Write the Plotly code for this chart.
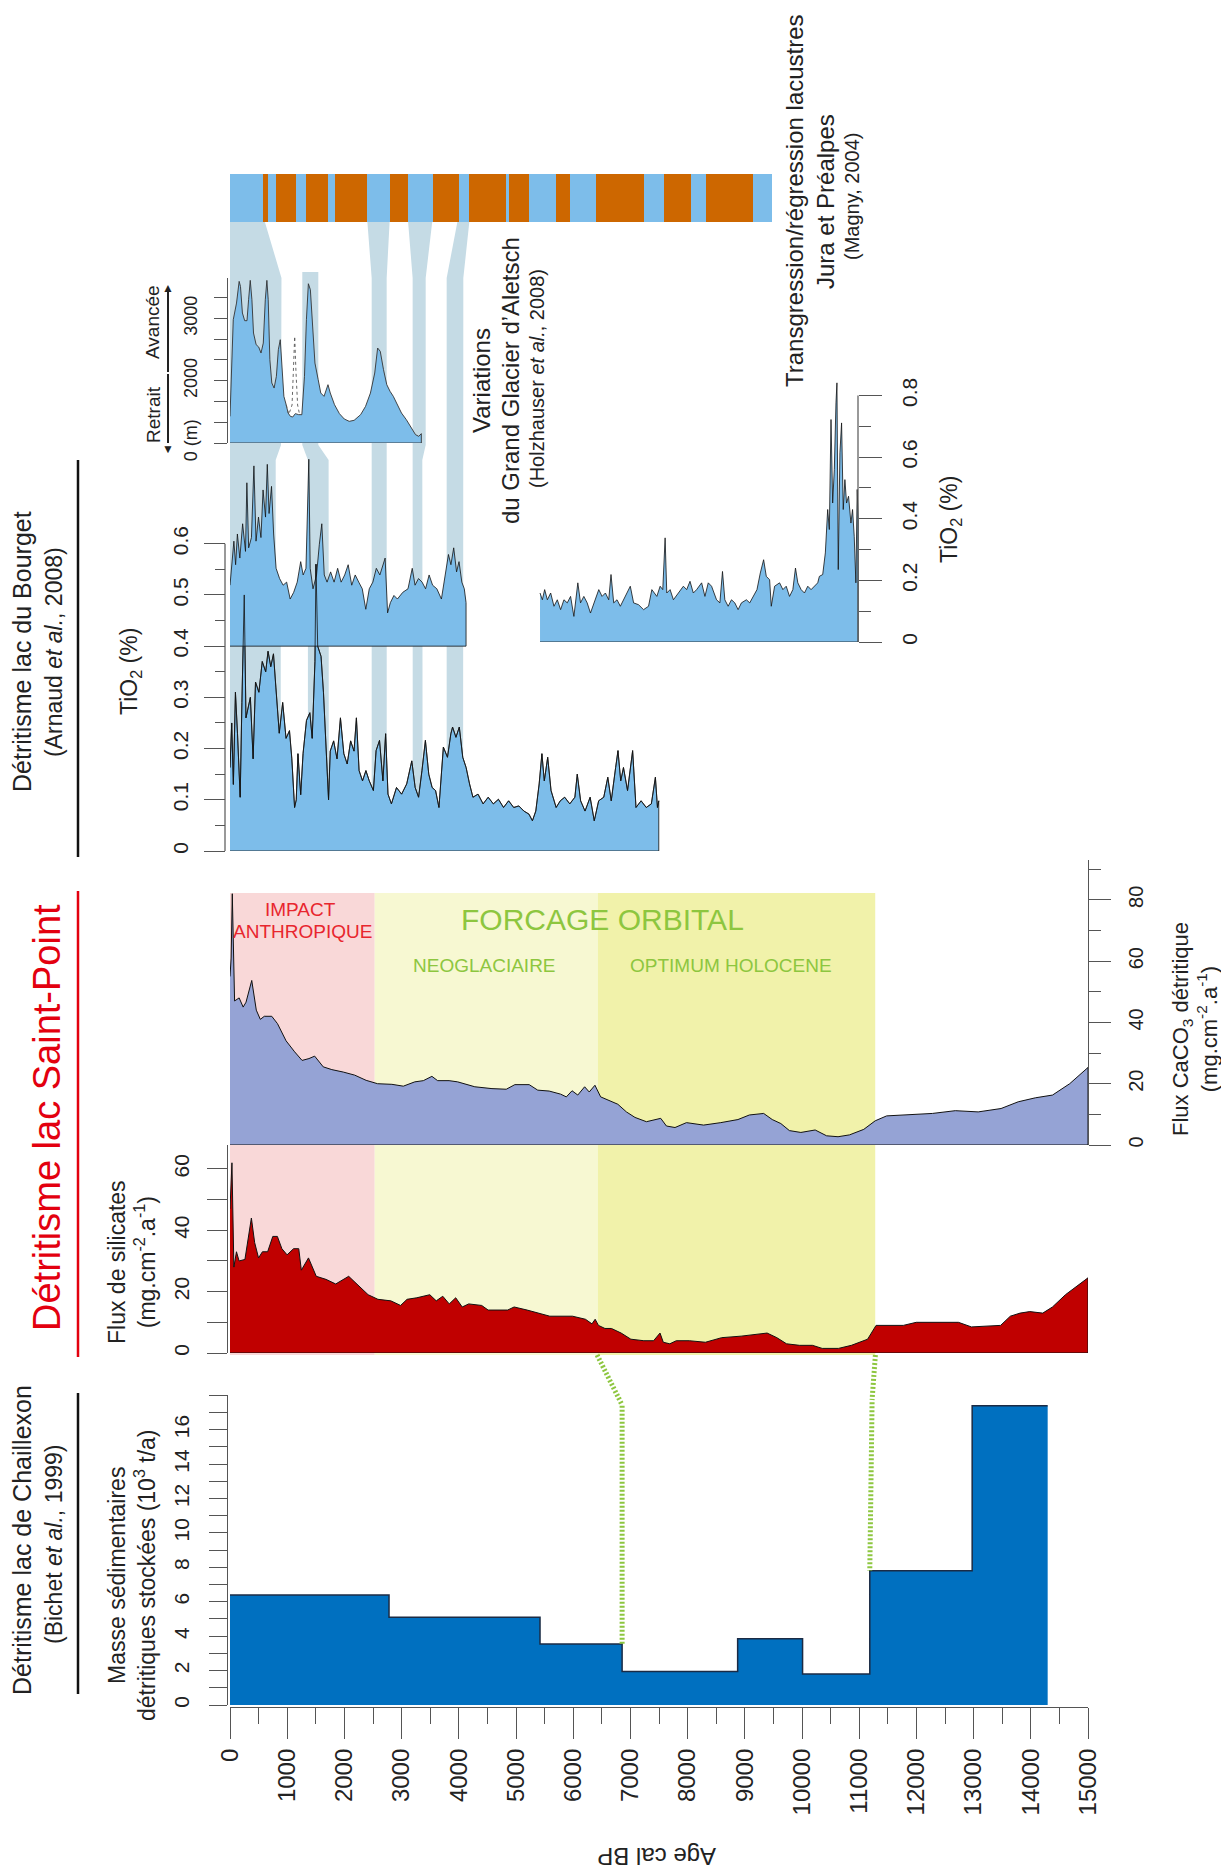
import plotly.graph_objects as go

# ---------------------------------------------------------------------------
# Données (âges en ans cal BP)
# ---------------------------------------------------------------------------
age_ticks = list(range(0, 15001, 1000))
age_tick_labels = [str(a) for a in age_ticks]

# Transgression (bleu) / régression (orange), Jura et Préalpes (Magny, 2004)
lake_edges = [0, 580, 670, 800, 1150, 1330, 1720, 1840, 2390, 2800, 3120, 3550,
              4000, 4180, 4830, 4880, 5220, 5700, 5940, 6400, 7240, 7590, 8060,
              8330, 9150, 9480]
lake_phase = ["T", "R", "T", "R", "T", "R", "T", "R", "T", "R", "T", "R", "T",
              "R", "T", "R", "T", "R", "T", "R", "T", "R", "T", "R", "T"]

# Grand Glacier d'Aletsch (Holzhauser et al., 2008)
aletsch_age = [0, 29, 57, 114, 160, 183, 217, 257, 297, 325, 354, 383, 411, 457,
               502, 542, 582, 617, 645, 668, 697, 731, 771, 811, 845, 879, 902,
               942, 982, 1016, 1056, 1096, 1142, 1200, 1256, 1302, 1336, 1370,
               1405, 1439, 1485, 1542, 1587, 1644, 1684, 1713, 1753, 1827, 1913,
               1998, 2084, 2170, 2284, 2370, 2455, 2530, 2581, 2627, 2684, 2741,
               2798, 2855, 2912, 2998, 3083, 3169, 3243, 3300, 3345]
aletsch_len = [1428, 2176, 2979, 3246, 3594, 3513, 3086, 2963, 2963, 3299, 3610,
               3299, 2765, 2578, 2540, 2444, 2604, 3299, 3610, 3299, 2337, 1963,
               1882, 2070, 2497, 2658, 2337, 1749, 1615, 1481, 1428, 1417, 1471,
               1455, 1455, 2070, 2979, 3556, 3460, 2872, 2283, 2016, 1802, 1749,
               1882, 1936, 1802, 1615, 1471, 1385, 1348, 1364, 1455, 1588, 1802,
               2123, 2524, 2471, 2176, 1936, 1829, 1749, 1642, 1481, 1374, 1241,
               1134, 1107, 1150]
aletsch_alt_age = [982, 1028, 1085, 1113, 1131, 1153, 1182, 1216, 1256]
aletsch_alt_len = [1615, 1460, 1610, 2150, 2711, 2150, 1610, 1460, 1455]
aletsch_ticks = [1000, 2000, 3000]
aletsch_tick_labels = ["0 (m)", "2000", "3000"]
aletsch_minor_ticks = [1333, 1667, 2333, 2667, 3333]

# Lac du Bourget, TiO2 (Arnaud et al., 2008) : série longue 0-7500
bourget_age = [0, 30, 59, 95, 131, 178, 208, 249, 279, 356, 404, 446, 505, 564,
               624, 665, 713, 760, 802, 861, 921, 980, 1040, 1081, 1129, 1158,
               1188, 1236, 1277, 1337, 1396, 1437, 1485, 1503, 1533, 1592, 1634,
               1675, 1723, 1752, 1812, 1871, 1931, 1990, 2049, 2109, 2168, 2210,
               2257, 2317, 2376, 2435, 2507, 2554, 2614, 2673, 2721, 2762, 2822,
               2911, 3000, 3089, 3178, 3237, 3297, 3356, 3416, 3475, 3534, 3594,
               3653, 3730, 3802, 3861, 3891, 3950, 4009, 4069, 4128, 4188, 4247,
               4336, 4425, 4514, 4604, 4693, 4782, 4871, 4960, 5049, 5138, 5227,
               5287, 5346, 5405, 5453, 5495, 5554, 5613, 5702, 5774, 5851, 5940,
               6029, 6071, 6130, 6207, 6296, 6368, 6445, 6534, 6605, 6665, 6742,
               6783, 6831, 6879, 6950, 7039, 7098, 7187, 7277, 7366, 7437, 7473,
               7496]
bourget_tio2 = [0.163, 0.25, 0.13, 0.31, 0.23, 0.105, 0.29, 0.50, 0.26, 0.30,
                0.18, 0.33, 0.31, 0.37, 0.35, 0.39, 0.36, 0.385, 0.32, 0.23, 0.29,
                0.22, 0.235, 0.18, 0.085, 0.10, 0.19, 0.11, 0.19, 0.255, 0.27,
                0.22, 0.37, 0.56, 0.40, 0.38, 0.31, 0.215, 0.10, 0.195, 0.215,
                0.18, 0.26, 0.19, 0.17, 0.215, 0.195, 0.26, 0.157, 0.137, 0.157,
                0.137, 0.118, 0.196, 0.216, 0.137, 0.229, 0.111, 0.092, 0.124,
                0.111, 0.131, 0.176, 0.124, 0.105, 0.157, 0.216, 0.15, 0.124,
                0.118, 0.085, 0.203, 0.183, 0.229, 0.242, 0.222, 0.242, 0.183,
                0.163, 0.131, 0.105, 0.111, 0.092, 0.105, 0.092, 0.101, 0.085,
                0.098, 0.085, 0.088, 0.078, 0.072, 0.059, 0.078, 0.131, 0.19,
                0.137, 0.183, 0.118, 0.085, 0.098, 0.105, 0.092, 0.105, 0.150,
                0.098, 0.078, 0.105, 0.059, 0.098, 0.105, 0.144, 0.098, 0.163,
                0.196, 0.137, 0.163, 0.118, 0.196, 0.085, 0.098, 0.085, 0.092,
                0.144, 0.085, 0.098]
# second enregistrement 0-4100, tracé au-dessus de la ligne 0.4
bourget_top_base = 0.4
bourget_top_age = [0, 37, 68, 98, 129, 172, 221, 271, 295, 326, 375, 418, 455,
                   498, 541, 578, 621, 652, 683, 726, 763, 806, 867, 929, 990,
                   1052, 1113, 1175, 1236, 1279, 1328, 1378, 1402, 1451, 1513,
                   1562, 1605, 1648, 1697, 1759, 1820, 1882, 1943, 2005, 2066,
                   2128, 2189, 2251, 2312, 2374, 2435, 2497, 2558, 2620, 2669,
                   2712, 2755, 2804, 2866, 2927, 3020, 3112, 3186, 3235, 3296,
                   3358, 3419, 3481, 3542, 3616, 3696, 3758, 3819, 3862, 3911,
                   3961, 4004, 4053, 4096, 4127]
bourget_top_tio2 = [0.519, 0.572, 0.605, 0.559, 0.619, 0.572, 0.639, 0.585,
                    0.719, 0.592, 0.612, 0.752, 0.605, 0.652, 0.612, 0.705,
                    0.652, 0.755, 0.659, 0.712, 0.619, 0.552, 0.532, 0.519,
                    0.525, 0.492, 0.505, 0.525, 0.565, 0.539, 0.552, 0.765,
                    0.552, 0.512, 0.539, 0.599, 0.639, 0.539, 0.525, 0.545,
                    0.525, 0.552, 0.525, 0.539, 0.559, 0.519, 0.539, 0.525,
                    0.512, 0.472, 0.512, 0.525, 0.552, 0.539, 0.559, 0.572,
                    0.465, 0.485, 0.499, 0.492, 0.505, 0.512, 0.552, 0.519,
                    0.532, 0.525, 0.512, 0.539, 0.519, 0.512, 0.492, 0.539,
                    0.579, 0.559, 0.592, 0.545, 0.565, 0.525, 0.512, 0.485]
# partie ancienne 5400-11000 (axe de droite)
bourget_old_age = [5420, 5461, 5501, 5548, 5606, 5664, 5722, 5780, 5838, 5896,
                   5954, 6012, 6081, 6128, 6186, 6244, 6302, 6360, 6447, 6505,
                   6563, 6621, 6661, 6708, 6766, 6824, 6911, 6998, 7056, 7143,
                   7230, 7317, 7375, 7462, 7520, 7566, 7607, 7636, 7694, 7752,
                   7839, 7926, 7984, 8042, 8100, 8158, 8245, 8303, 8361, 8419,
                   8506, 8564, 8610, 8651, 8709, 8767, 8825, 8883, 8941, 9028,
                   9086, 9144, 9213, 9271, 9329, 9376, 9434, 9463, 9521, 9608,
                   9666, 9724, 9782, 9840, 9886, 9927, 9985, 10043, 10101, 10159,
                   10217, 10275, 10304, 10362, 10408, 10449, 10478, 10507, 10536,
                   10565, 10594, 10611, 10634, 10663, 10692, 10721, 10750, 10779,
                   10814, 10855, 10884, 10913, 10942, 10965, 10982]
bourget_old_tio2 = [0.159, 0.137, 0.17, 0.137, 0.159, 0.116, 0.137, 0.105, 0.137,
                    0.127, 0.148, 0.083, 0.192, 0.127, 0.148, 0.127, 0.094, 0.127,
                    0.17, 0.148, 0.159, 0.137, 0.219, 0.127, 0.137, 0.116, 0.148,
                    0.181, 0.127, 0.121, 0.105, 0.116, 0.17, 0.148, 0.181, 0.17,
                    0.338, 0.159, 0.17, 0.137, 0.159, 0.181, 0.17, 0.197, 0.159,
                    0.17, 0.192, 0.148, 0.192, 0.181, 0.137, 0.127, 0.229, 0.137,
                    0.116, 0.137, 0.127, 0.105, 0.127, 0.137, 0.127, 0.148, 0.17,
                    0.224, 0.267, 0.213, 0.202, 0.116, 0.181, 0.192, 0.17, 0.181,
                    0.148, 0.17, 0.24, 0.192, 0.17, 0.159, 0.181, 0.17, 0.181,
                    0.192, 0.213, 0.219, 0.289, 0.43, 0.365, 0.722, 0.451, 0.56,
                    0.776, 0.841, 0.235, 0.614, 0.711, 0.43, 0.527, 0.451, 0.473,
                    0.386, 0.43, 0.343, 0.192, 0.495, 0.397]
bourget_left_ticks = [0, 0.1, 0.2, 0.3, 0.4, 0.5, 0.6]
bourget_right_ticks = [0, 0.2, 0.4, 0.6, 0.8]

# Lac de Saint-Point : flux CaCO3 détritique (mg.cm-2.a-1)
caco3_age = [0, 20, 40, 80, 160, 230, 280, 380, 460, 530, 600, 730, 830, 980,
             1130, 1260, 1380, 1480, 1630, 1780, 1980, 2180, 2380, 2580, 2830,
             3030, 3230, 3380, 3530, 3630, 3830, 3980, 4280, 4580, 4830, 4980,
             5230, 5380, 5580, 5780, 5880, 5980, 6080, 6200, 6280, 6380, 6480,
             6630, 6780, 6930, 7080, 7280, 7530, 7630, 7780, 7980, 8280, 8580,
             8880, 9080, 9330, 9480, 9630, 9780, 9980, 10230, 10430, 10630, 10830,
             11080, 11280, 11480, 11880, 12280, 12680, 13080, 13480, 13780, 14080,
             14380, 14680, 15000]
caco3_flux = [55, 61, 82, 47, 48, 45, 46.6, 53.7, 44, 41, 42, 42, 39.6, 34, 30.4,
              27.6, 28.2, 29, 25.5, 24.6, 23.8, 22.8, 21.1, 20, 19.8, 19.2, 20.6,
              21, 22.4, 21, 21, 20.6, 19, 18.4, 18.2, 19.7, 19.7, 17.9, 17.6,
              16.6, 15.7, 17.7, 16.3, 19, 17.3, 19.5, 15.7, 14.6, 13.3, 10.8, 9,
              7.6, 8.7, 6.2, 5.7, 7.3, 6.5, 7.3, 8.3, 9.8, 10.3, 8.3, 7, 4.7, 4.1,
              4.9, 3, 2.7, 3.3, 5.1, 7.9, 9.5, 9.8, 10.3, 11.2, 10.8, 11.9, 14.1,
              15.4, 16.3, 20, 25.3]

# Lac de Saint-Point : flux de silicates (mg.cm-2.a-1)
silicate_age = [0, 34, 68, 113, 159, 261, 374, 431, 499, 567, 658, 748, 828, 907,
                998, 1111, 1202, 1247, 1372, 1508, 1678, 1848, 2075, 2245, 2415,
                2586, 2812, 2982, 3096, 3266, 3493, 3606, 3720, 3833, 3946, 4060,
                4173, 4400, 4513, 4854, 4967, 5194, 5421, 5591, 5988, 6214, 6328,
                6384, 6441, 6555, 6668, 6838, 7008, 7235, 7405, 7518, 7575, 7689,
                7802, 8029, 8312, 8596, 8936, 9163, 9390, 9560, 9730, 9957, 10183,
                10353, 10637, 10864, 11147, 11295, 11544, 11771, 11998, 12338,
                12735, 12962, 13472, 13642, 13812, 13982, 14209, 14379, 14606,
                15000]
silicate_flux = [47, 62, 28, 33, 30, 30.5, 44, 36, 31, 33, 33, 38, 38, 34, 32, 34,
                 34, 27, 31, 25, 24, 22.5, 25, 22, 19, 17.5, 17, 15.5, 17.5, 18,
                 19, 17, 18.5, 16, 18, 15, 16, 15.5, 14, 14, 15, 14, 13, 12, 12,
                 11, 9.5, 11, 9, 8, 8, 6.5, 4.5, 4, 4, 6.5, 3.5, 3, 4, 4, 3.5, 5,
                 5.5, 6, 6.5, 5, 3, 2.5, 2.5, 1.5, 1.5, 2.5, 4.5, 9, 9, 9, 10, 10,
                 10, 8.5, 9, 12, 13, 13.5, 13, 15, 19, 24.5]

# Lac de Chaillexon : masse sédimentaire détritique stockée (10^3 t/a)
chaillexon_edges = [0, 2780, 5420, 6855, 8875, 10010, 11185, 12975, 14295]
chaillexon_mass = [6.4, 5.1, 3.55, 1.95, 3.85, 1.8, 7.8, 17.4]

# Périodes climatiques (Saint-Point)
zone_edges = [0, 2530, 6430, 11280]

# Tranches de corrélation (âge début, âge fin) à chaque niveau du montage
band_1 = [("bar", 0, 610), ("gl_top", 0, 900), ("gl_base", 0, 892),
          ("bg_top", 0, 799), ("split", 0, 799), ("split", 0, 887), ("base", 0, 887)]
band_2 = [("gl_top2", 1264, 1544), ("gl_base", 1264, 1544),
          ("bg_top", 1362, 1724), ("base", 1362, 1728)]
band_3 = [("bar", 2402, 2790), ("gl_top", 2477, 2739), ("base", 2477, 2740)]
band_4 = [("bar", 3114, 3535), ("gl_top", 3193, 3421), ("gl_base", 3193, 3421),
          ("bg_top", 3193, 3362), ("base", 3195, 3368)]
band_5 = [("bar", 3975, 4184), ("gl_top", 3788, 4079), ("base", 3788, 4075)]

# Connexions pointillées vertes (âge en haut, âge en bas, masse Chaillexon)
link_top_age = [6418, 11283]
link_bottom_age = [6855, 11185]
link_bottom_mass = [3.55, 7.8]

# ---------------------------------------------------------------------------
# Mise en page : positions en pixels de la page 1229 x 1874 ; la page HTML
# garde la marge de 8 px du <body>, la figure est donc plus petite d'autant.
# ---------------------------------------------------------------------------
PAGE_W, PAGE_H, BODY = 1229, 1874, 8
W, H = PAGE_W - BODY, PAGE_H - BODY
AGE_X0, AGE_X1 = 230, 1088
BASE = "Liberation Sans, Arial, sans-serif"
AXIS = "#555555"
LIGHT_BLUE = "#7dbdea"
ORANGE = "#cd6700"
BAND = "rgb(197,219,229)"
GREEN = "#8dc63f"
RED = "#e3000f"
ZONE_COLORS = ["#f9d8d8", "#f7f8d2", "#f1f2aa"]
LEVEL_PX = {"bar": 222, "gl_top": 278, "gl_top2": 272, "gl_base": 445,
            "bg_top": 460, "split": 646, "base": 851}


def px_x(p):
    return (p - BODY) / W


def px_y(p):
    return 1 - (p - BODY) / H


def dom(base, top):
    return [px_y(base), px_y(top)]


def closed(xs, ys, floor):
    return xs + [xs[-1], xs[0]], ys + [floor, floor]


fig = go.Figure()

# bande transgression / régression
starts = lake_edges[:-1]
widths = [b - a for a, b in zip(lake_edges[:-1], lake_edges[1:])]
fig.add_trace(go.Bar(
    orientation="h", y=[0] * len(widths), x=widths, base=starts, width=1,
    marker=dict(color=[LIGHT_BLUE if p == "T" else ORANGE for p in lake_phase],
                line=dict(width=0)),
    xaxis="x", yaxis="y7", hoverinfo="skip"))

# Aletsch
ax, ay = closed(aletsch_age, aletsch_len, aletsch_ticks[0])
fig.add_trace(go.Scatter(x=ax, y=ay, fill="toself", fillcolor=LIGHT_BLUE,
                         mode="lines", line=dict(color="#333333", width=0.9),
                         xaxis="x", yaxis="y6", hoverinfo="skip"))
fig.add_trace(go.Scatter(x=aletsch_alt_age, y=aletsch_alt_len, mode="lines",
                         line=dict(color="#555555", width=0.9, dash="dot"),
                         xaxis="x", yaxis="y6", hoverinfo="skip"))

# Bourget
bx, by = closed(bourget_age, bourget_tio2, 0)
fig.add_trace(go.Scatter(x=bx, y=by, fill="toself", fillcolor=LIGHT_BLUE,
                         mode="lines", line=dict(color="#111111", width=0.8),
                         xaxis="x", yaxis="y4", hoverinfo="skip"))
tx, ty = closed(bourget_top_age, bourget_top_tio2, bourget_top_base)
fig.add_trace(go.Scatter(x=tx, y=ty, fill="toself", fillcolor=LIGHT_BLUE,
                         mode="lines", line=dict(color="#111111", width=0.8),
                         xaxis="x", yaxis="y4", hoverinfo="skip"))
fig.add_trace(go.Scatter(x=bourget_age, y=bourget_tio2, mode="lines",
                         line=dict(color="#111111", width=0.8),
                         xaxis="x", yaxis="y4", hoverinfo="skip"))
ox, oy = closed(bourget_old_age, bourget_old_tio2, 0)
fig.add_trace(go.Scatter(x=ox, y=oy, fill="toself", fillcolor=LIGHT_BLUE,
                         mode="lines", line=dict(color="#111111", width=0.8),
                         xaxis="x", yaxis="y5", hoverinfo="skip"))

# Saint-Point
cx, cy = closed(caco3_age, caco3_flux, 0)
fig.add_trace(go.Scatter(x=cx, y=cy, fill="toself", fillcolor="#95a3d5",
                         mode="lines", line=dict(color="#111111", width=1),
                         xaxis="x", yaxis="y3", hoverinfo="skip"))
sx, sy = closed(silicate_age, silicate_flux, 0)
fig.add_trace(go.Scatter(x=sx, y=sy, fill="toself", fillcolor="#c00000",
                         mode="lines", line=dict(color="#111111", width=1),
                         xaxis="x", yaxis="y2", hoverinfo="skip"))

# Chaillexon
fig.add_trace(go.Scatter(x=chaillexon_edges, y=chaillexon_mass + chaillexon_mass[-1:],
                         line_shape="hv", fill="tozeroy", fillcolor="#0070c0",
                         mode="lines", line=dict(color="#1b2b45", width=1.5),
                         xaxis="x", yaxis="y", hoverinfo="skip"))

shapes = []
# périodes climatiques
for i, col in enumerate(ZONE_COLORS):
    shapes.append(dict(type="rect", xref="x", yref="paper", layer="below",
                       x0=zone_edges[i], x1=zone_edges[i + 1],
                       y0=px_y(1355), y1=px_y(893), fillcolor=col,
                       line=dict(width=0)))
# tranches de corrélation
for band in [band_1, band_2, band_3, band_4, band_5]:
    left = [f"{a},{px_y(LEVEL_PX[lv])}" for lv, a, b in band]
    right = [f"{b},{px_y(LEVEL_PX[lv])}" for lv, a, b in reversed(band)]
    path = "M " + " L ".join(left + right) + " Z"
    shapes.append(dict(type="path", xref="x", yref="paper", layer="below",
                       path=path, fillcolor=BAND, line=dict(width=0)))
# lignes d'axe partielles du Bourget
shapes.append(dict(type="line", xref="paper", yref="y4", x0=px_x(225), x1=px_x(225),
                   y0=0, y1=bourget_left_ticks[-1], line=dict(color=AXIS, width=1.2)))
shapes.append(dict(type="line", xref="paper", yref="y5", x0=px_x(858), x1=px_x(858),
                   y0=0, y1=bourget_right_ticks[-1], line=dict(color=AXIS, width=1.2)))
# connexions vertes
green = dict(color=GREEN, width=5, dash="2px,2px")
shapes.append(dict(type="line", xref="x", yref="paper",
                   x0=link_top_age[0], y0=px_y(1355), x1=link_bottom_age[0], y1=px_y(1405),
                   line=green))
shapes.append(dict(type="line", xref="x", yref="y",
                   x0=link_bottom_age[0], y0=17.4, x1=link_bottom_age[0],
                   y1=link_bottom_mass[0], line=green))
shapes.append(dict(type="line", xref="x", yref="paper",
                   x0=link_top_age[1], y0=px_y(1355), x1=11225, y1=px_y(1400),
                   line=green))
shapes.append(dict(type="line", xref="x", yref="y",
                   x0=11225, y0=17.6, x1=link_bottom_age[1],
                   y1=link_bottom_mass[1], line=green))
# traits des titres de gauche
for y0, y1, col in [(1393, 1694, "#111111"), (891, 1357, RED), (460, 857, "#111111")]:
    shapes.append(dict(type="line", xref="paper", yref="paper",
                       x0=px_x(78), x1=px_x(78), y0=px_y(y0), y1=px_y(y1),
                       line=dict(color=col, width=2.5)))
# flèche Retrait / Avancée
for y0, y1 in [(372, 292), (374, 443)]:
    shapes.append(dict(type="line", xref="paper", yref="paper",
                       x0=px_x(168), x1=px_x(168), y0=px_y(y0), y1=px_y(y1),
                       line=dict(color="#222222", width=2)))


def note(text, x, y, size, angle=-90, color="#222222"):
    return dict(text=text, x=px_x(x), y=px_y(y), xref="paper", yref="paper",
                showarrow=False, textangle=angle, align="center",
                xanchor="center", yanchor="middle",
                font=dict(size=size, color=color, family=BASE))


unit = "(mg.cm<sup>-2</sup>.a<sup>-1</sup>)"
annotations = [
    note("Détritisme lac de Chaillexon", 22, 1540, 25),
    note("(Bichet <i>et al.</i>, 1999)", 54, 1545, 23),
    note("Détritisme lac Saint-Point", 47, 1118, 38, color=RED),
    note("Détritisme lac du Bourget", 22, 652, 25),
    note("(Arnaud <i>et al.</i>, 2008)", 54, 652, 23),
    note("Masse sédimentaires<br>détritiques stockées (10<sup>3</sup> t/a)", 132, 1575, 23),
    note("Flux de silicates<br>" + unit, 132, 1262, 23),
    note("TiO<sub>2</sub> (%)", 131, 672, 23),
    note("Flux CaCO<sub>3</sub> détritique<br>" + unit, 1195, 1029, 22),
    note("TiO<sub>2</sub> (%)", 950, 520, 23),
    note("Variations", 481, 381, 24),
    note("du Grand Glacier d’Aletsch", 510, 381, 24),
    note("(Holzhauser <i>et al.</i>, 2008)", 537, 379, 20),
    note("Transgression/régression lacustres", 795, 200, 24),
    note("Jura et Préalpes", 825, 202, 24),
    note("(Magny, 2004)", 852, 197, 20),
    note("Avancée", 153, 322, 19),
    note("Retrait", 153, 415, 19),
    note("IMPACT", 300, 909, 19, angle=0, color="#e8262e"),
    note("ANTHROPIQUE", 302, 932, 19, angle=0, color="#e8262e"),
    note("FORCAGE ORBITAL", 602, 919, 30, angle=0, color=GREEN),
    note("NEOGLACIAIRE", 484, 965, 19, angle=0, color=GREEN),
    note("OPTIMUM HOLOCENE", 731, 965, 19, angle=0, color=GREEN),
    note("Age cal BP", 657, 1857, 24, angle=180),
]
# pointes de flèche (haut et bas)
for y_px, sym in [(288, "▲"), (449, "▼")]:
    annotations.append(note(sym, 168, y_px, 12, angle=0, color="#222222"))


def yaxis(base, top, rng, pos, side, **kw):
    d = dict(domain=dom(base, top), range=rng, anchor="free", position=px_x(pos),
             side=side, showgrid=False, zeroline=False, ticks="outside",
             automargin=False, tickcolor=AXIS, linecolor=AXIS, linewidth=1.2,
             tickwidth=1.2, tickangle=-90,
             tickfont=dict(size=21, family=BASE, color="#222222"))
    d.update(kw)
    return d


fig.update_layout(
    width=W, height=H, margin=dict(l=0, r=0, t=0, b=0, pad=0, autoexpand=False),
    paper_bgcolor="white", plot_bgcolor="rgba(0,0,0,0)", showlegend=False,
    font=dict(family=BASE, color="#222222"), bargap=0,
    xaxis=dict(domain=[px_x(AGE_X0), px_x(AGE_X1)], range=[0, 15000],
               anchor="free", position=px_y(1707), showgrid=False, zeroline=False,
               automargin=False, showline=True, linecolor=AXIS, linewidth=1.2,
               ticks="outside", ticklen=31, tickwidth=1.2, tickcolor=AXIS,
               tickmode="array", tickvals=age_ticks, ticktext=age_tick_labels,
               tickangle=-90, tickfont=dict(size=24, family=BASE, color="#222222"),
               minor=dict(ticks="outside", ticklen=16, tickwidth=1.2,
                          tickcolor=AXIS, tickmode="linear", tick0=0, dtick=500)),
    yaxis=yaxis(1705, 1395, [0, 18.02], 227, "left", showline=True, ticklen=18,
                ticklabelstandoff=12, tickmode="array", tickvals=list(range(0, 17, 2)),
                minor=dict(ticks="outside", ticklen=18, tickcolor=AXIS,
                           tickmode="linear", tick0=0, dtick=1)),
    yaxis2=yaxis(1353, 1145, [0, 67.8], 227, "left", showline=True, ticklen=20,
                 ticklabelstandoff=10, tickmode="array", tickvals=[0, 20, 40, 60],
                 minor=dict(ticks="outside", ticklen=20, tickcolor=AXIS,
                            tickmode="linear", tick0=0, dtick=10)),
    yaxis3=yaxis(1145, 860, [0, 93], 1088, "right", showline=True, ticklen=22,
                 ticklabelstandoff=8, tickmode="array", tickvals=[0, 20, 40, 60, 80],
                 tickfont=dict(size=20, family=BASE, color="#222222"),
                 minor=dict(ticks="outside", ticklen=12, tickcolor=AXIS,
                            tickmode="linear", tick0=0, dtick=10)),
    yaxis4=yaxis(851, 450, [0, 0.783], 225, "left", showline=False, ticklen=21,
                 ticklabelstandoff=8, tickmode="array", tickvals=bourget_left_ticks,
                 ticktext=[f"{v:g}" for v in bourget_left_ticks],
                 minor=dict(ticks="outside", ticklen=10, tickcolor=AXIS,
                            tickmode="array",
                            tickvals=[0.05, 0.15, 0.25, 0.35, 0.45, 0.55])),
    yaxis5=yaxis(642, 377, [0, 0.86], 858, "right", showline=False, ticklen=23,
                 ticklabelstandoff=10, tickmode="array", tickvals=bourget_right_ticks,
                 ticktext=[f"{v:g}" for v in bourget_right_ticks],
                 minor=dict(ticks="outside", ticklen=12, tickcolor=AXIS,
                            tickmode="array", tickvals=[0.1, 0.3, 0.5, 0.7])),
    yaxis6=yaxis(443, 278, [1000, 3648], 227, "left", showline=True, ticklen=13,
                 ticklabelstandoff=10, tickmode="array", tickvals=aletsch_ticks,
                 ticktext=aletsch_tick_labels,
                 tickfont=dict(size=18, family=BASE, color="#222222"),
                 minor=dict(ticks="outside", ticklen=13, tickcolor=AXIS,
                            tickmode="array", tickvals=aletsch_minor_ticks)),
    yaxis7=dict(domain=dom(222, 174), range=[-0.5, 0.5], anchor="free",
                position=px_x(AGE_X0), visible=False, automargin=False),
    shapes=shapes,
    annotations=annotations,
)

fig.write_html("out.html")
